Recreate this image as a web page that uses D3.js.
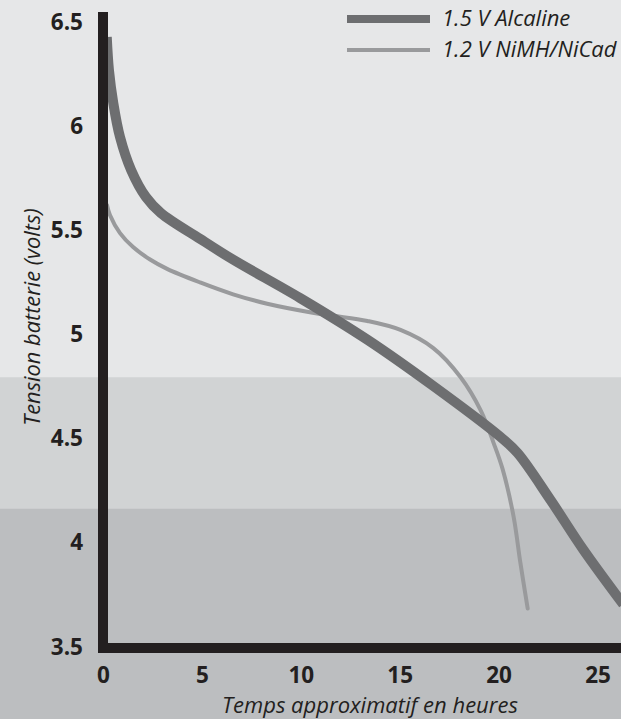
<!DOCTYPE html>
<html><head><meta charset="utf-8">
<script src="https://cdn.jsdelivr.net/npm/d3@7"></script>
<style>html,body{margin:0;padding:0;background:#e6e7e8;}svg{display:block;}</style>
</head><body>
<script>
const xTicks = [0, 5, 10, 15, 20, 25];
const yTicks = [3.5, 4, 4.5, 5, 5.5, 6, 6.5];
const bandEdges = [4.79, 4.16];
const bandColors = ["#e6e7e8", "#d1d3d4", "#bcbec0"];
const alkT = [0.19, 0.30, 0.52, 0.86, 1.42, 2.17, 2.93, 4.9, 6.57, 9.97, 13.37, 16.7, 20.1, 20.96, 22.63, 24.3, 26.3];
const alkV = [6.423, 6.265, 6.106, 5.943, 5.785, 5.655, 5.578, 5.455, 5.355, 5.17, 4.97, 4.748, 4.503, 4.426, 4.2, 3.96, 3.7];
const nimhT = [0.2, 0.35, 0.86, 1.52, 2.38, 3.24, 4.91, 6.58, 8.3, 10.6, 11.65, 13.37, 15.04, 16.7, 18.08, 19.1, 19.75, 20.2, 20.76, 21.1, 21.47];
const nimhV = [5.617, 5.569, 5.482, 5.415, 5.355, 5.31, 5.245, 5.188, 5.143, 5.1, 5.085, 5.06, 5.017, 4.93, 4.79, 4.63, 4.474, 4.35, 4.12, 3.9, 3.68];
const seriesNames = ["1.5 V Alcaline", "1.2 V NiMH/NiCad"];
const xTitle = "Temps approximatif en heures";
const yTitle = "Tension batterie (volts)";

const W = 621, H = 719;
const svg = d3.select("body").append("svg").attr("width", W).attr("height", H);
const x = d3.scaleLinear().domain([0, 25]).range([103, 597.5]);
const y = d3.scaleLinear().domain([3.5, 6.5]).range([646, 21]);

svg.append("rect").attr("x",0).attr("y",0).attr("width",W).attr("height",y(bandEdges[0])).attr("fill",bandColors[0]);
svg.append("rect").attr("x",0).attr("y",y(bandEdges[0])).attr("width",W).attr("height",y(bandEdges[1])-y(bandEdges[0])).attr("fill",bandColors[1]);
svg.append("rect").attr("x",0).attr("y",y(bandEdges[1])).attr("width",W).attr("height",H-y(bandEdges[1])).attr("fill",bandColors[2]);

const line = d3.line().x(d => x(d[0])).y(d => y(d[1])).curve(d3.curveCatmullRom.alpha(0.5));
const nimh = nimhT.map((t,i)=>[t, nimhV[i]]);
const alk = alkT.map((t,i)=>[t, alkV[i]]);

svg.append("path").attr("d", line(nimh)).attr("fill","none").attr("stroke","#999a9c").attr("stroke-width",4).attr("stroke-linecap","round");
svg.append("path").attr("d", line(alk)).attr("fill","none").attr("stroke","#6d6e70").attr("stroke-width",10).attr("stroke-linecap","butt");

svg.append("line").attr("x1", x(0)).attr("x2", x(0)).attr("y1", 12).attr("y2", y(3.5)+7).attr("stroke","#231f20").attr("stroke-width",10);
svg.append("line").attr("x1", x(0)-5).attr("x2", W).attr("y1", y(3.5)+2).attr("y2", y(3.5)+2).attr("stroke","#231f20").attr("stroke-width",10);

const yAxis = d3.axisLeft(y).tickValues(yTicks).tickSize(0).tickPadding(0).tickFormat(d3.format("~g"));
const gy = svg.append("g").attr("transform","translate(83,0)").call(yAxis);
const xAxis = d3.axisBottom(x).tickValues(xTicks).tickSize(0).tickPadding(0).tickFormat(d3.format("~g"));
const gx = svg.append("g").attr("transform","translate(0,667)").call(xAxis);
[gx, gy].forEach(g => {
  g.select(".domain").remove();
  g.selectAll("text").attr("font-family","'Open Sans', sans-serif").attr("font-weight","bold").attr("font-size",22.5).attr("fill","#231f20");
});
gy.selectAll("text").attr("dy","0.36em");

svg.append("text").attr("x", 370).attr("y", 713).attr("text-anchor","middle")
  .attr("font-family","'Open Sans', sans-serif").attr("font-style","italic").attr("font-size",22).attr("fill","#231f20").text(xTitle);
svg.append("text").attr("transform","translate(40,317) rotate(-90)").attr("text-anchor","middle")
  .attr("font-family","'Open Sans', sans-serif").attr("font-style","italic").attr("font-size",21.8).attr("fill","#231f20").text(yTitle);

const leg = svg.append("g");
const legY = [19, 50], legW = [8, 4], legC = ["#6d6e70", "#999a9c"];
seriesNames.forEach((n,i) => {
  leg.append("line").attr("x1",347).attr("x2",430).attr("y1",legY[i]).attr("y2",legY[i]).attr("stroke",legC[i]).attr("stroke-width",legW[i]);
  leg.append("text").attr("x",442).attr("y",legY[i]+7).attr("font-family","'Open Sans', sans-serif").attr("font-style","italic").attr("font-size",22).attr("fill","#231f20").text(n);
});
</script>
</body></html>
